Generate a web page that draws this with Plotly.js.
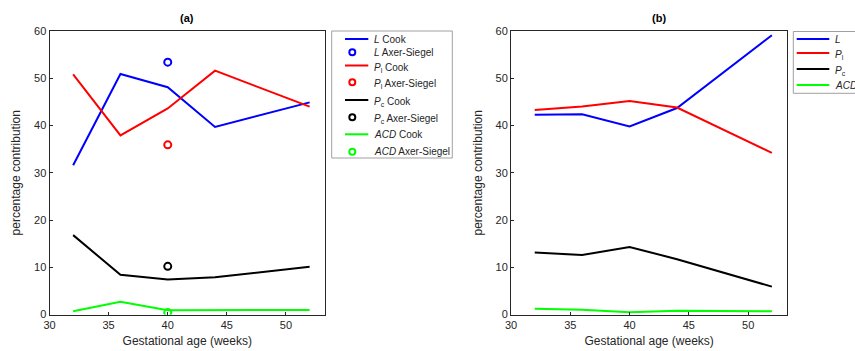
<!DOCTYPE html>
<html>
<head>
<meta charset="utf-8">
<script src="https://cdn.plot.ly/plotly-3.0.1.min.js"></script>
<style>html,body{margin:0;padding:0;background:#fff;}#chart{width:855px;height:351px;}</style>
</head>
<body>
<div id="chart"></div>
<script>
// Gestational age (weeks)
const weeks = [32, 36, 40, 44, 52];
const asWeek = [40];

// Panel (a): Cook series
const aL_cook   = [31.6, 50.9, 48.1, 39.7, 44.9];
const aPl_cook  = [50.8, 37.9, 43.6, 51.6, 44.0];
const aPc_cook  = [16.8, 8.4, 7.4, 7.9, 10.1];
const aACD_cook = [0.7, 2.7, 0.9, 0.9, 0.95];
// Panel (a): Axer-Siegel points (40 weeks)
const aL_as   = [53.4];
const aPl_as  = [35.9];
const aPc_as  = [10.2];
const aACD_as = [0.4];

// Panel (b)
const bL   = [42.3, 42.4, 39.8, 43.7, 59.1];
const bPl  = [43.3, 44.0, 45.2, 43.8, 34.2];
const bPc  = [13.1, 12.6, 14.3, 11.7, 5.9];
const bACD = [1.2, 1.0, 0.5, 0.8, 0.7];

const namesA = ['<i>L</i> Cook', '<i>L</i> Axer-Siegel',
  '<i>P</i><sub>l</sub> Cook', '<i>P</i><sub>l</sub> Axer-Siegel',
  '<i>P</i><sub>c</sub> Cook', '<i>P</i><sub>c</sub> Axer-Siegel',
  '<i>ACD</i> Cook', '<i>ACD</i> Axer-Siegel'];
const namesB = ['<i>L</i>', '<i>P</i><sub>l</sub>', '<i>P</i><sub>c</sub>', '<i>ACD</i>'];
const colors = ['#0000ff', '#ff0000', '#000000', '#00ff00'];

const cookA = [aL_cook, aPl_cook, aPc_cook, aACD_cook];
const asA = [aL_as, aPl_as, aPc_as, aACD_as];
const seriesB = [bL, bPl, bPc, bACD];

const traces = [];
for (let i = 0; i < 4; i++) {
  traces.push({x: weeks, y: cookA[i], type: 'scatter', mode: 'lines', name: namesA[2*i],
    line: {color: colors[i], width: 2}, xaxis: 'x', yaxis: 'y', showlegend: false});
  traces.push({x: asWeek, y: asA[i], type: 'scatter', mode: 'markers', name: namesA[2*i+1],
    marker: {symbol: 'circle-open', size: 7, color: colors[i], line: {width: 2, color: colors[i]}},
    xaxis: 'x', yaxis: 'y', showlegend: false});
}
for (let i = 0; i < 4; i++) {
  traces.push({x: weeks, y: seriesB[i], type: 'scatter', mode: 'lines', name: namesB[i],
    line: {color: colors[i], width: 2}, xaxis: 'x2', yaxis: 'y2', showlegend: false});
}

const W = 855, H = 351;
const FONT = 'Liberation Sans, Arial, sans-serif';
const axBase = {
  showgrid: false, zeroline: false, showline: true, mirror: true,
  linecolor: '#262626', linewidth: 1, ticks: 'inside', ticklen: 3, tickcolor: '#262626',
  tickfont: {family: FONT, size: 11, color: '#262626'}
};
const titleFont = {family: FONT, size: 12, color: '#262626'};
const yDom = [1 - 314.5/H, 1 - 31/H];

// Manual legends (pixel -> paper helpers)
const px = v => v / W, py = v => 1 - v / H;
const shapes = [];
const annotations = [];
function legendBox(x0, y0, x1, y1) {
  shapes.push({type: 'rect', xref: 'paper', yref: 'paper', x0: px(x0), x1: px(x1), y0: py(y1), y1: py(y0),
    line: {color: '#a0a0a0', width: 1}, fillcolor: '#ffffff', layer: 'above'});
}
function legendLine(x0, x1, y, color) {
  shapes.push({type: 'line', xref: 'paper', yref: 'paper', x0: px(x0), x1: px(x1), y0: py(y), y1: py(y),
    line: {color: color, width: 2}, layer: 'above'});
}
function legendCircle(cx, cy, color) {
  const r = 3;
  shapes.push({type: 'circle', xref: 'paper', yref: 'paper', x0: px(cx - r), x1: px(cx + r), y0: py(cy + r), y1: py(cy - r),
    line: {color: color, width: 2}, layer: 'above'});
}
function legendText(x, y, text) {
  annotations.push({text: text, xref: 'paper', yref: 'paper', x: px(x), y: py(y), xanchor: 'left', yanchor: 'middle',
    showarrow: false, font: {family: FONT, size: 10, color: '#262626'}});
}

// Legend (a)
legendBox(331.7, 31, 452.3, 158);
const aRows = [39, 52.3, 65.5, 82.3, 100, 117.3, 134.3, 151.7];
for (let i = 0; i < 8; i++) {
  const c = colors[Math.floor(i / 2)];
  if (i % 2 === 0) legendLine(345, 368.3, aRows[i], c);
  else legendCircle(352.3, aRows[i], c);
  legendText(371.5, aRows[i] + (namesA[i].indexOf('<sub>') >= 0 ? 2 : 0), namesA[i]);
}
// Legend (b)
legendBox(793.3, 31.5, 870, 93.3);
const bRows = [39, 53, 69, 85];
for (let i = 0; i < 4; i++) {
  legendLine(796.7, 829.3, bRows[i], colors[i]);
  legendText(832.5, bRows[i] + (namesB[i].indexOf('<sub>') >= 0 ? 2 : 0), namesB[i]);
}

annotations.push(
  {text: '<b>(a)</b>', xref: 'paper', yref: 'paper', x: px(187), y: py(18), showarrow: false,
    xanchor: 'center', yanchor: 'middle', font: {family: FONT, size: 11, color: '#000'}},
  {text: '<b>(b)</b>', xref: 'paper', yref: 'paper', x: px(659), y: py(18), showarrow: false,
    xanchor: 'center', yanchor: 'middle', font: {family: FONT, size: 11, color: '#000'}}
);

const layout = {
  width: W, height: H,
  margin: {l: 0, r: 0, t: 0, b: 0},
  paper_bgcolor: '#fff', plot_bgcolor: '#fff',
  showlegend: false,
  xaxis: Object.assign({}, axBase, {domain: [49.5/W, 325/W], range: [30, 53.3], tickvals: [30,35,40,45,50],
    anchor: 'y', title: {text: 'Gestational age (weeks)', font: titleFont, standoff: 6}}),
  yaxis: Object.assign({}, axBase, {domain: yDom, range: [0, 60], tickvals: [0,10,20,30,40,50,60],
    anchor: 'x', title: {text: 'percentage contribution', font: titleFont, standoff: 10}}),
  xaxis2: Object.assign({}, axBase, {domain: [511/W, 787.3/W], range: [30, 53.3], tickvals: [30,35,40,45,50],
    anchor: 'y2', title: {text: 'Gestational age (weeks)', font: titleFont, standoff: 6}}),
  yaxis2: Object.assign({}, axBase, {domain: yDom, range: [0, 60], tickvals: [0,10,20,30,40,50,60],
    anchor: 'x2', title: {text: 'percentage contribution', font: titleFont, standoff: 10}}),
  shapes: shapes,
  annotations: annotations
};

Plotly.newPlot('chart', traces, layout, {displayModeBar: false, staticPlot: true});
</script>
</body>
</html>
